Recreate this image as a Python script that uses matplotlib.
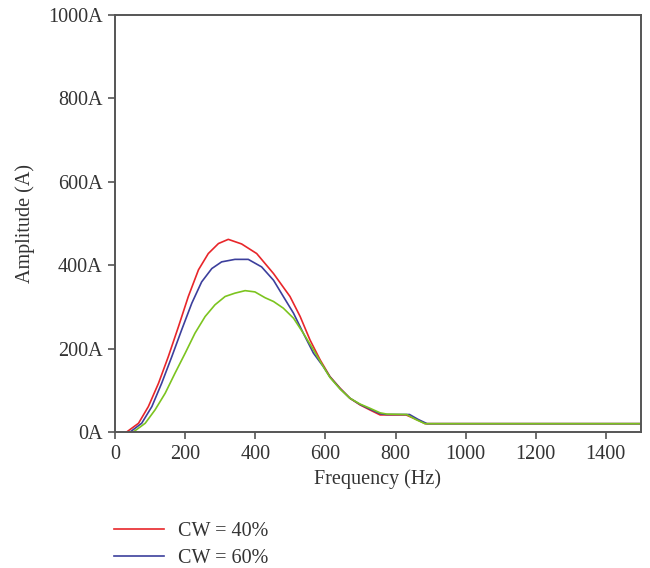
import numpy as np
import matplotlib
matplotlib.use("Agg")
import matplotlib.pyplot as plt

plt.rcParams['font.family'] = ['Liberation Serif', 'DejaVu Serif']

# values (Hz, A)
red_f = [33, 67, 95, 124, 152, 181, 209, 238, 266, 295, 323, 361, 404, 452, 499,
         528, 556, 585, 613, 642, 670, 699, 727, 756, 775, 830, 860, 885, 1500]
red_a = [0, 21, 61, 117, 181, 253, 325, 389, 428, 452, 462, 451, 428, 380, 325,
         277, 221, 173, 133, 105, 81, 65, 53, 41, 41, 41, 30, 20, 20]

blue_f = [43, 76, 105, 133, 162, 190, 219, 247, 276, 304, 342, 380, 418, 452, 480,
          509, 537, 566, 594, 613, 642, 670, 699, 727, 756, 775, 840, 865, 890, 1500]
blue_a = [0, 21, 61, 117, 181, 245, 309, 360, 392, 408, 414, 414, 396, 364, 325,
          285, 237, 189, 157, 132, 104, 81, 66, 55, 44, 42, 42, 30, 20, 20]

green_f = [52, 86, 114, 143, 171, 200, 228, 257, 285, 314, 342, 371, 399, 428, 452,
           480, 509, 537, 566, 594, 613, 642, 670, 699, 727, 756, 775, 832, 858, 884, 1500]
green_a = [0, 21, 53, 93, 141, 189, 237, 277, 305, 325, 333, 339, 336, 322, 313,
           297, 273, 237, 197, 157, 131, 103, 81, 67, 57, 46, 43, 42, 30, 20, 20]

labels = ["CW = 40%", "CW = 60%", "CW = 80%"]
colors = ["#e8262a", "#3c3f9c", "#7cc41f"]

x_ticks = [0, 200, 400, 600, 800, 1000, 1200, 1400]
y_ticks = [0, 200, 400, 600, 800, 1000]

fs = 14.5

fig = plt.figure(figsize=(6.5, 5.68), dpi=100)
ax = fig.add_axes([0.177, 0.2394, 0.809, 0.7342])

lines = []
for f, a, lab, c in zip([red_f, blue_f, green_f], [red_a, blue_a, green_a], labels, colors):
    ln, = ax.plot(f, a, color=c, lw=1.2, label=lab)
    lines.append(ln)

ax.set_xlim(0, 1500)
ax.set_ylim(0, 1000)
ax.set_xticks(x_ticks)
ax.set_yticks(y_ticks)
ax.set_yticklabels([f"{v}A" for v in y_ticks])

for s in ax.spines.values():
    s.set_color("#555555")
    s.set_linewidth(1.4)
ax.tick_params(direction="out", length=5, width=1.2, color="#555555",
               labelsize=fs, labelcolor="#333333", pad=4)

ax.set_xlabel("Frequency (Hz)", fontsize=fs, color="#333333", labelpad=4)
ax.set_ylabel("Amplitude (A)", fontsize=fs, color="#333333", labelpad=9)

# only the first two legend rows are visible in the cropped original
ax.legend(handles=lines[:2], loc="upper left", bbox_to_anchor=(-0.017, -0.197),
          frameon=False, fontsize=fs, handlelength=2.45, handletextpad=0.7,
          labelspacing=0.38, labelcolor="#333333", borderaxespad=0)

fig.savefig("out.png", dpi=100)
